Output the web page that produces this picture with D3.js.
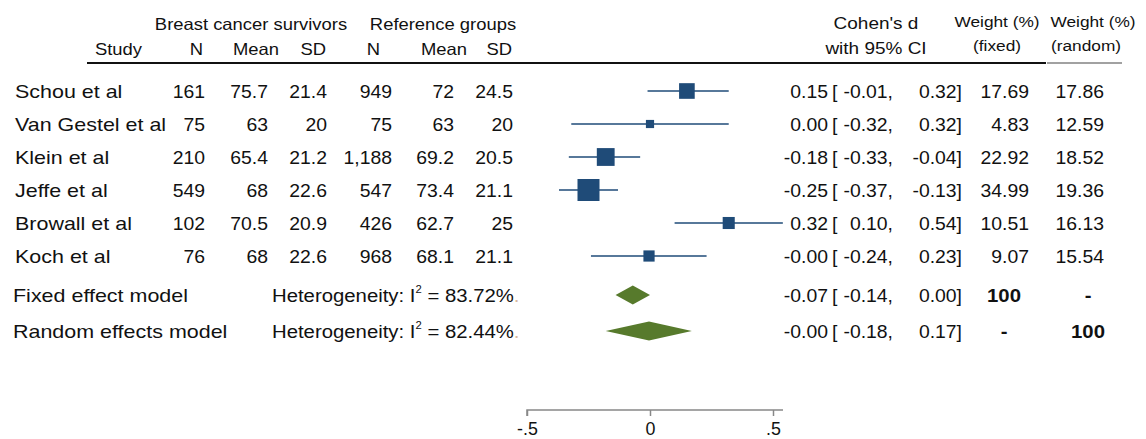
<!DOCTYPE html>
<html>
<head>
<meta charset="utf-8">
<script src="https://cdn.jsdelivr.net/npm/d3@7"></script>
<style>
  body { margin: 0; background: #fff; }
  svg { display: block; font-family: "Liberation Sans", Arial, sans-serif; }
</style>
</head>
<body>
<svg id="chart"></svg>
<script>
// study data
const studies = ["Schou et al", "Van Gestel et al", "Klein et al", "Jeffe et al", "Browall et al", "Koch et al"];
const nBcs = [161, 75, 210, 549, 102, 76];
const meanBcs = [75.7, 63, 65.4, 68, 70.5, 68];
const sdBcs = [21.4, 20, 21.2, 22.6, 20.9, 22.6];
const nRef = [949, 75, 1188, 547, 426, 968];
const meanRef = [72, 63, 69.2, 73.4, 62.7, 68.1];
const sdRef = [24.5, 20, 20.5, 21.1, 25, 21.1];
const cohenD = [0.15, 0.00, -0.18, -0.25, 0.32, -0.004];
const ciLow = [-0.01, -0.32, -0.33, -0.37, 0.10, -0.24];
const ciHigh = [0.32, 0.32, -0.04, -0.13, 0.54, 0.23];
const wFixed = [17.69, 4.83, 22.92, 34.99, 10.51, 9.07];
const wRandom = [17.86, 12.59, 18.52, 19.36, 16.13, 15.54];

// pooled models
const models = ["Fixed effect model", "Random effects model"];
const modelI2 = ["83.72", "82.44"];
const modelD = [-0.07, -0.004];
const modelLow = [-0.14, -0.18];
const modelHigh = [0.00, 0.17];

const xTicks = [-0.5, 0, 0.5];
const xTickLabels = ["-.5", "0", ".5"];

const width = 1146, height = 439;
const sx = 1.13;   // letters in the picture are a bit wide
const sxNum = 1.02; // digits less so
const blue = "#1f4b78";
const green = "#577a2c";

const svg = d3.select("#chart").attr("width", width).attr("height", height);

function txt(x, y, s, anchor, size, weight, stretch) {
  return svg.append("text")
    .attr("transform", `translate(${x},${y}) scale(${stretch || sx},1)`)
    .attr("text-anchor", anchor || "start")
    .attr("font-size", size || 19)
    .attr("font-weight", weight || "normal")
    .attr("fill", "#111")
    .text(s);
}
const num = (x, y, s, anchor) => txt(x, y, s, anchor || "end", 19, "normal", sxNum);

const x = d3.scaleLinear().domain([-0.5, 0.5]).range([527, 773]);
const rowY = d3.scalePoint().domain(d3.range(studies.length)).range([91, 256]);
const modelY = [295, 331];
const boxSize = d3.scaleSqrt().domain([0, d3.max(wFixed)]).range([0, 22]);

// headers
txt(251, 30, "Breast cancer survivors", "middle", 16.3);
txt(443, 30, "Reference groups", "middle", 16.3);
const headX = [142, 203, 279, 326, 380, 467, 512];
const headT = ["Study", "N", "Mean", "SD", "N", "Mean", "SD"];
headT.forEach((h, i) => txt(headX[i], 55, h, "end", 16.3));
txt(876, 29, "Cohen's d", "middle", 16.8);
txt(876, 54, "with 95% CI", "middle", 16.8);
txt(997, 27, "Weight (%)", "middle", 15.3);
txt(997, 51, "(fixed)", "middle", 15.3);
txt(1093, 27, "Weight (%)", "middle", 15.3);
txt(1086, 51, "(random)", "middle", 15.3);

svg.append("line").attr("x1", 87).attr("x2", 1046).attr("y1", 63).attr("y2", 63)
  .attr("stroke", "#111").attr("stroke-width", 2);
svg.append("line").attr("x1", 1047).attr("x2", 1122).attr("y1", 63).attr("y2", 63)
  .attr("stroke", "#444").attr("stroke-width", 1.2);

// table columns
const fmtN = d3.format(",");
const colX = [205, 268, 327, 392, 454, 513];
const cols = [nBcs.map(fmtN), meanBcs.map(String), sdBcs.map(String),
              nRef.map(fmtN), meanRef.map(String), sdRef.map(String)];

function ciText(y, est, lo, hi) {
  num(828, y, est.toFixed(2));
  txt(832, y, "[", "start", 19, "normal", sxNum);
  num(893, y, lo.toFixed(2) + ",");
  num(962, y, hi.toFixed(2) + "]");
}

studies.forEach((s, i) => {
  const y = rowY(i) + 7;
  txt(15, y, s, "start");
  cols.forEach((c, j) => num(colX[j], y, c[i]));
  ciText(y, cohenD[i], ciLow[i], ciHigh[i]);
  num(1029, y, wFixed[i].toFixed(2));
  num(1104, y, wRandom[i].toFixed(2));
});

// CI lines and boxes
const rows = svg.append("g").selectAll("g").data(studies).join("g");
rows.append("line")
  .attr("x1", (d, i) => x(ciLow[i])).attr("x2", (d, i) => x(ciHigh[i]))
  .attr("y1", (d, i) => rowY(i)).attr("y2", (d, i) => rowY(i))
  .attr("stroke", blue).attr("stroke-width", 1.5);
rows.append("rect")
  .attr("x", (d, i) => x(cohenD[i]) - boxSize(wFixed[i]) / 2)
  .attr("y", (d, i) => rowY(i) - boxSize(wFixed[i]) / 2)
  .attr("width", (d, i) => boxSize(wFixed[i]))
  .attr("height", (d, i) => boxSize(wFixed[i]))
  .attr("fill", blue);

// pooled rows
models.forEach((m, i) => {
  const cy = modelY[i];
  const y = cy + 7;
  txt(13, y, m, "start");
  const t = txt(272, y, "Heterogeneity: I", "start", 18);
  t.append("tspan").attr("font-size", 10).attr("dy", -9).text("2");
  t.append("tspan").attr("dy", 9).text(" = " + modelI2[i] + "%");
  t.append("tspan").attr("fill", "#d8b8a0").text(".");
  svg.append("path")
    .attr("d", `M${x(modelLow[i])},${cy} L${x(modelD[i])},${cy - 9.5} L${x(modelHigh[i])},${cy} L${x(modelD[i])},${cy + 9.5}Z`)
    .attr("fill", green);
  ciText(y, modelD[i], modelLow[i], modelHigh[i]);
  txt(1004, y, i === 0 ? "100" : "-", "middle", 19, "bold", 1.07);
  txt(1088, y, i === 1 ? "100" : "-", "middle", 19, "bold", 1.07);
});

// x axis
const axis = svg.append("g")
  .attr("transform", "translate(0,410)")
  .call(d3.axisBottom(x).tickValues(xTicks).tickSize(6)
    .tickFormat((d, i) => xTickLabels[i]));
axis.select(".domain").attr("d", `M${x(-0.5)},6V0H783`).attr("stroke", "#888").attr("stroke-width", 1.5);
axis.selectAll(".tick line").attr("stroke", "#888").attr("stroke-width", 1.5);
axis.selectAll(".tick text")
  .attr("font-size", 17.5).attr("fill", "#111").attr("font-family", "Liberation Sans, Arial, sans-serif")
  .attr("transform", `scale(${sxNum},1)`)
  .attr("y", 9).attr("dy", "0.9em");
</script>
</body>
</html>
